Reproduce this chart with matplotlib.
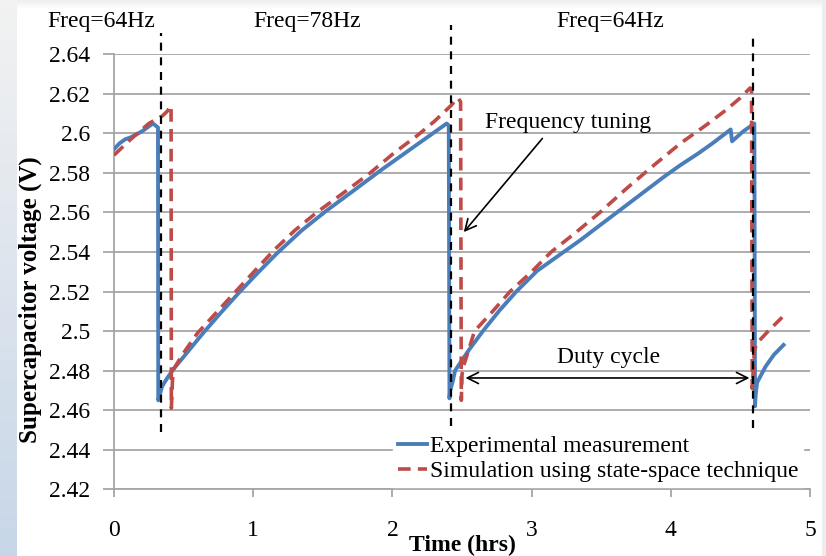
import numpy as np
import matplotlib
matplotlib.use("Agg")
import matplotlib.pyplot as plt

# ---------------- data ----------------
exp_x = [0, 0.04, 0.08, 0.12, 0.2, 0.28, 0.316, 0.318, 0.33, 0.345, 0.38, 0.43, 0.5,
         0.64, 0.77, 0.905, 1.04, 1.17, 1.35, 1.528, 1.72, 1.91, 2.09, 2.27, 2.39, 2.405,
         2.41, 2.415, 2.435, 2.45, 2.55, 2.65, 2.77, 2.89, 3.04, 3.20, 3.35, 3.49, 3.65,
         3.8, 3.95, 4.07, 4.2, 4.30, 4.43, 4.44, 4.52, 4.60, 4.605, 4.61, 4.62, 4.68, 4.74, 4.81]
exp_y = [2.592, 2.595, 2.597, 2.598, 2.601, 2.605, 2.603, 2.465, 2.468, 2.472, 2.476, 2.481, 2.487,
         2.499, 2.5095, 2.520, 2.530, 2.5393, 2.551, 2.561, 2.571, 2.581, 2.590, 2.599, 2.605, 2.604,
         2.466, 2.470, 2.475, 2.480, 2.4905, 2.500, 2.5105, 2.520, 2.5305, 2.5385, 2.546, 2.5535, 2.562,
         2.570, 2.578, 2.584, 2.590, 2.595, 2.602, 2.596, 2.601, 2.605, 2.462, 2.468, 2.474, 2.482, 2.488, 2.493]

sim_x = [0, 0.12, 0.25, 0.35, 0.38, 0.41, 0.412, 0.42, 0.43, 0.5, 0.6, 0.9, 1.15, 1.30, 1.456,
         1.65, 1.84, 2.01, 2.18, 2.30, 2.39, 2.42, 2.47, 2.49, 2.495, 2.50, 2.51, 2.59, 2.72,
         2.845, 3.0, 3.14, 3.32, 3.49, 3.68, 3.88, 4.07, 4.25, 4.40, 4.50, 4.57, 4.58, 4.585,
         4.60, 4.62, 4.70, 4.80]
sim_y = [2.589, 2.597, 2.605, 2.609, 2.611, 2.614, 2.461, 2.475, 2.481, 2.489, 2.499, 2.522, 2.541,
         2.551, 2.560, 2.570, 2.580, 2.590, 2.599, 2.606, 2.612, 2.614, 2.618, 2.616, 2.465, 2.478,
         2.482, 2.500, 2.510, 2.520, 2.530, 2.540, 2.550, 2.560, 2.572, 2.584, 2.595, 2.604, 2.612,
         2.618, 2.623, 2.622, 2.471, 2.490, 2.494, 2.500, 2.507]

switch_x = [0.335, 2.42, 4.59]
switch_top = [2.651, 2.655, 2.648]
switch_bottom = [2.449, 2.452, 2.451]

freq_labels = ["Freq=64Hz", "Freq=78Hz", "Freq=64Hz"]
freq_label_x = [-0.48, 1.00, 3.175]

x_ticks = [0, 1, 2, 3, 4, 5]
y_ticks = [2.42, 2.44, 2.46, 2.48, 2.50, 2.52, 2.54, 2.56, 2.58, 2.60, 2.62, 2.64]
y_tick_labels = ["2.42", "2.44", "2.46", "2.48", "2.5", "2.52", "2.54", "2.56", "2.58", "2.6", "2.62", "2.64"]

# ---------------- figure ----------------
plt.rcParams['font.family'] = ['Liberation Serif', 'DejaVu Serif']
FS = 17
W, H = 826, 556
fig = plt.figure(figsize=(W / 100, H / 100), dpi=100)
fig.patch.set_facecolor('white')

# slide-like decorations (left gradient strip, top shadow)
bg = fig.add_axes([0, 0, 1, 1], zorder=-10)
bg.axis('off')
grad = np.linspace(0, 1, 256)[:, None]
c_top = np.array([0.95, 0.95, 0.95]); c_bot = np.array([0.78, 0.84, 0.91])
img = c_top[None, None, :] * (1 - grad[:, :, None]) + c_bot[None, None, :] * grad[:, :, None]
bg.imshow(img, extent=[0, 17, H, 0], aspect='auto')
shadow = np.linspace(0, 1, 64)[:, None]
simg = np.ones((64, 1, 3)) * (0.93 + 0.07 * shadow[:, :, None])
bg.imshow(simg, extent=[17, W, 9, 0], aspect='auto')
bg.imshow(np.ones((2, 2, 3)) * 0.93, extent=[822, W, H, 0], aspect='auto')
bg.set_xlim(0, W); bg.set_ylim(H, 0)

L, R, T, B = 114, 810, 54.3, 489.3
ax = fig.add_axes([L / W, 1 - B / H, (R - L) / W, (B - T) / H])
ax.set_xlim(0, 5)
ax.set_ylim(2.42, 2.64)

grid_c = '#a6a6a6'
for s in ['top', 'right']:
    ax.spines[s].set_visible(False)
for s in ['left', 'bottom']:
    ax.spines[s].set_color(grid_c)
    ax.spines[s].set_linewidth(1.3)
ax.set_yticks(y_ticks)
ax.set_yticklabels(y_tick_labels)
ax.set_xticks(x_ticks)
ax.yaxis.grid(True, color=grid_c, linewidth=1.3)
ax.set_axisbelow(True)
ax.tick_params(axis='both', colors=grid_c, labelcolor='black', labelsize=FS, length=6, width=1.3)
ax.tick_params(axis='x', pad=16)
ax.tick_params(axis='y', pad=9, length=8)

ax.plot(exp_x, exp_y, color='#4A7EBB', lw=2.8, solid_joinstyle='round', zorder=3,
        label='Experimental measurement')
ax.plot(sim_x, sim_y, color='#BE4B48', lw=2.6, linestyle=(0, (3.5, 2.0)), zorder=4,
        label='Simulation using state-space technique')
for xs, t, b in zip(switch_x, switch_top, switch_bottom):
    ax.plot([xs, xs], [b, t], color='black', lw=1.6, linestyle=(0, (3.6, 3.0)), zorder=5,
            clip_on=False)

for lab, lx in zip(freq_labels, freq_label_x):
    ax.text(lx, 2.6568, lab, fontsize=FS, ha='left', va='center', clip_on=False)

ax.text(3.26, 2.6055, 'Frequency tuning', fontsize=FS, ha='center', va='center')
ax.annotate('', xy=(2.50, 2.549), xytext=(3.09, 2.5985),
            arrowprops=dict(arrowstyle='->', color='black', lw=1.2, mutation_scale=20))
ax.text(3.55, 2.4866, 'Duty cycle', fontsize=FS, ha='center', va='center')
ax.annotate('', xy=(2.505, 2.4763), xytext=(4.585, 2.4763),
            arrowprops=dict(arrowstyle='<->', color='black', lw=1.2, mutation_scale=20))

leg = ax.legend(loc='lower right', bbox_to_anchor=(0.99, 0.005), fontsize=FS, frameon=True,
                handlelength=1.25, handletextpad=0.1, labelspacing=0.15, borderpad=0.2,
                borderaxespad=0, fancybox=False)
leg.get_frame().set_facecolor('white')
leg.get_frame().set_edgecolor('white')
leg.get_frame().set_alpha(1)

ax.set_ylabel('Supercapacitor voltage (V)', fontsize=18, fontweight='bold')
ax.yaxis.set_label_coords(-0.104, 0.435)
ax.set_xlabel('Time (hrs)', fontsize=17, fontweight='bold', labelpad=-4)

fig.savefig('out.png', dpi=100)
